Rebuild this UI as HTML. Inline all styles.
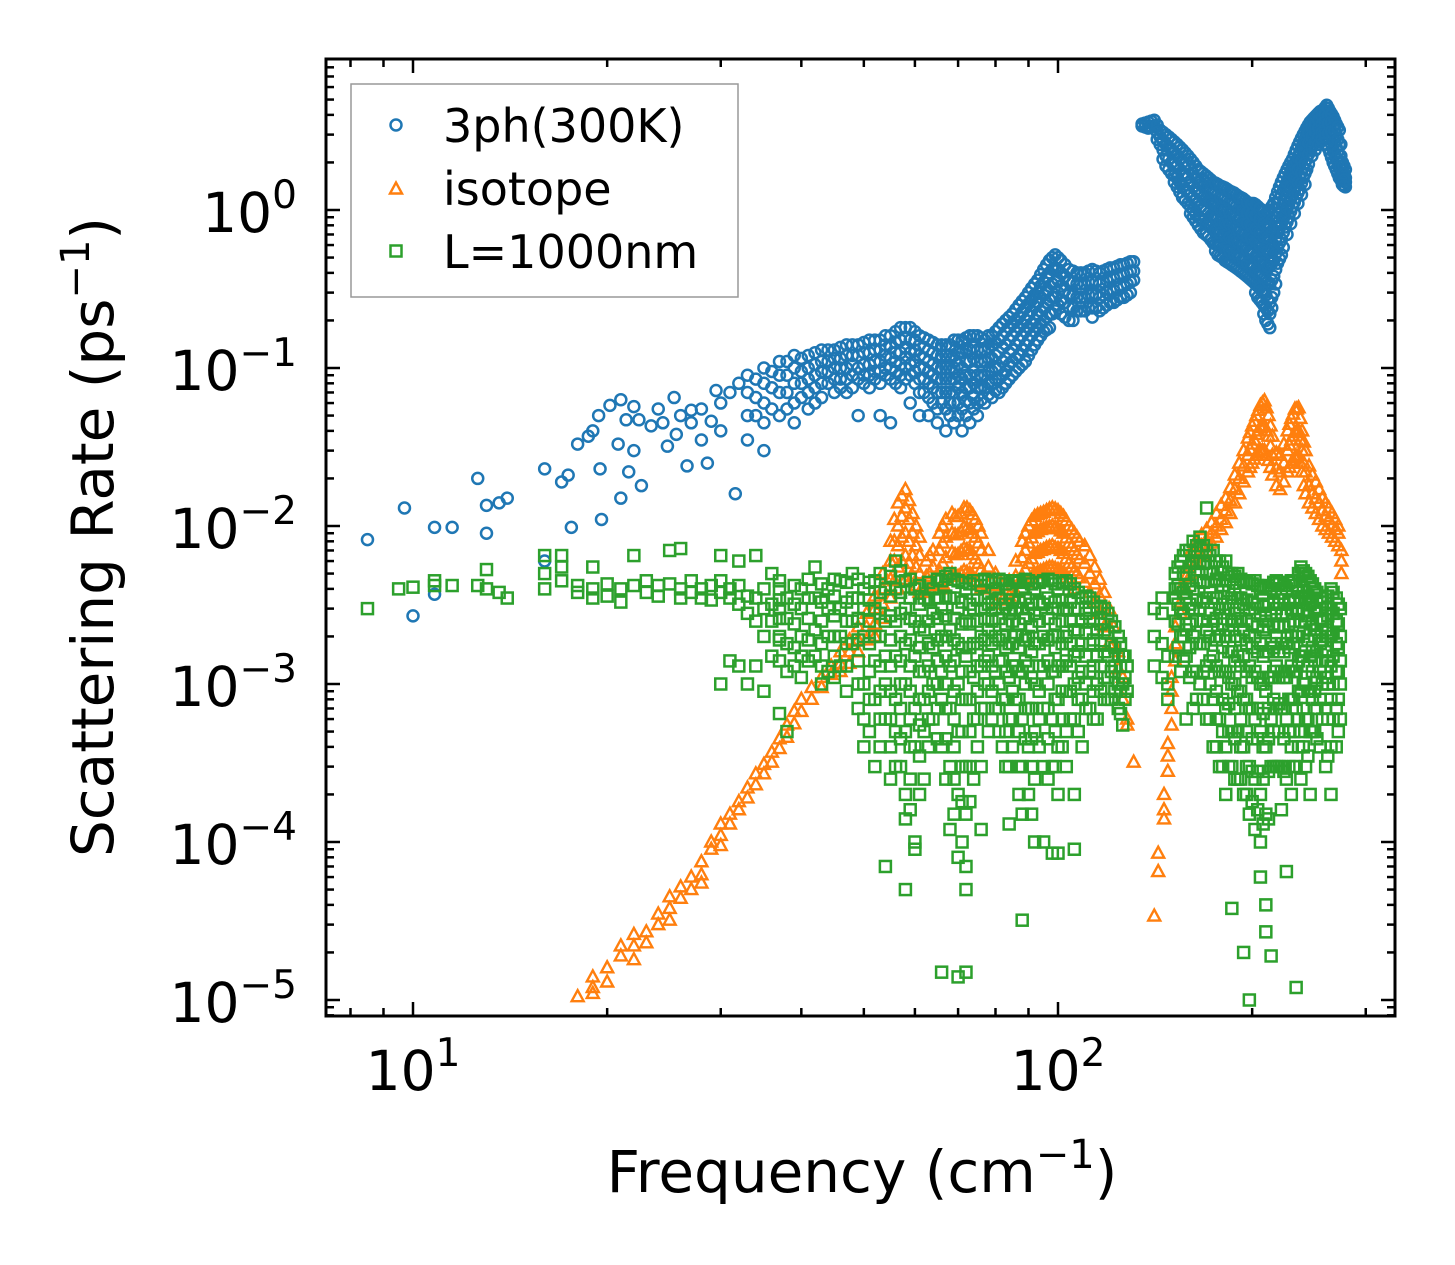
<!DOCTYPE html>
<html><head><meta charset="utf-8"><style>
html,body{margin:0;padding:0;background:#fff}
svg{display:block;font-family:"DejaVu Sans","Liberation Sans",sans-serif}
</style></head><body>
<svg id="chart" width="1455" height="1265" viewBox="0 0 1455 1265" xmlns="http://www.w3.org/2000/svg">
<defs><clipPath id="pc"><rect x="326" y="59" width="1069" height="957"/></clipPath></defs>
<rect x="0" y="0" width="1455" height="1265" fill="#fff"/>
<g id="marks" clip-path="url(#pc)"></g>
<g id="axes"></g>
</svg>
<script>
const xTickVals=[10,100];
const xTickExp=["1","2"];
const yTickVals=[1,0.1,0.01,0.001,0.0001,0.00001];
const yTickExp=["0","\u22121","\u22122","\u22123","\u22124","\u22125"];
const seriesNames=["3ph(300K)","isotope","L=1000nm"];

const blueFreq=[8.5,9.7,10,10.8,11.5,12.6,13,13.6,14,16,17,17.4,17.6,18,18.7,19,19.4,19.5,19.6,20.2,20.8,21,21.4,21.6,22,22.4,22.6,23.4,24,24.4,24.8,25.4,25.6,26,26.6,27,28,28.6,29,29.5,30,31,31.6,32,
33,35,37,39,41,43,45,47,49,51,53,55,57,59,61,63,65,67,69,71,73,75,77,79,81,83,85,87,89,91,93,95,97,99,101,104,107,110,113,116,119,122,125,128,131,
135,138,141,144,147,150,153,156,159,162,165,168,171,174,177,180,183,186,189,192,195,198,201,204,207,210,213,216,219,222,225,228,231,234,237,240,243,246,249,252,255,258,261,264,267,270,273,276,279];
const blueRate=[[0.0082],[0.013],[0.0027],[0.0098,0.0037],[0.0098],[0.02],[0.009,0.0135],[0.014],[0.015],[0.023,0.006],[0.019],[0.021],[0.0098],[0.033],[0.037],[0.04],[0.05],[0.023],[0.011],[0.058],[0.033],[0.015,0.063],[0.047],[0.022],[0.057,0.03],[0.047],[0.018],[0.043],[0.055],[0.045],[0.032],[0.065],[0.038],[0.05],[0.024],[0.054,0.045],[0.055,0.035],[0.025],[0.046],[0.072],[0.06,0.04],[0.07],[0.016],[0.08],
[0.09,0.07,0.05,0.035],[0.1,0.08,0.06,0.045,0.03],[0.11,0.09,0.07,0.05],[0.12,0.1,0.08,0.06,0.045],[0.12,0.1,0.085,0.07,0.055],[0.13,0.11,0.095,0.08,0.065],[0.13,0.115,0.1,0.085,0.07],[0.14,0.12,0.1,0.085,0.07],[0.14,0.12,0.1,0.085,0.05],[0.15,0.125,0.105,0.09,0.075],[0.15,0.13,0.11,0.095,0.08,0.05],[0.16,0.135,0.115,0.1,0.085,0.045],[0.18,0.15,0.125,0.105,0.09,0.075],[0.18,0.15,0.125,0.105,0.09,0.06],[0.16,0.14,0.12,0.1,0.085,0.07,0.05],[0.15,0.13,0.11,0.095,0.08,0.065,0.05],[0.14,0.12,0.1,0.085,0.07,0.055,0.045],[0.14,0.12,0.1,0.085,0.07,0.055,0.04],[0.15,0.12,0.1,0.085,0.07,0.06,0.045],[0.15,0.125,0.1,0.085,0.07,0.055,0.04],[0.16,0.13,0.11,0.09,0.075,0.06,0.045],[0.16,0.13,0.11,0.09,0.075,0.06,0.05],[0.15,0.13,0.11,0.09,0.075,0.06],[0.16,0.14,0.115,0.095,0.08,0.065],[0.18,0.15,0.125,0.1,0.085,0.07],[0.2,0.17,0.14,0.115,0.095,0.08],[0.22,0.19,0.16,0.13,0.11,0.09],[0.25,0.21,0.18,0.15,0.12,0.1],[0.28,0.24,0.2,0.17,0.14,0.11],[0.32,0.27,0.23,0.19,0.16,0.13],[0.36,0.3,0.26,0.22,0.18,0.15],[0.42,0.35,0.29,0.24,0.2,0.17],[0.48,0.4,0.33,0.27,0.22,0.18],[0.52,0.43,0.35,0.28,0.23],[0.48,0.4,0.33,0.27,0.22],[0.42,0.35,0.29,0.24,0.2],[0.4,0.34,0.28,0.23],[0.4,0.34,0.28,0.23],[0.42,0.35,0.29,0.24,0.21],[0.4,0.34,0.28,0.23],[0.42,0.36,0.3,0.25],[0.43,0.37,0.31,0.26],[0.45,0.39,0.33,0.28],[0.46,0.4,0.34,0.29],[0.47,0.41,0.36],
[3.5,3.4],[3.6,3.3],[3.7,3.4],[3.2,2.9,2.6],[3.0,2.6,2.2,1.9],[2.8,2.4,2.0,1.7],[2.6,2.2,1.9,1.6,1.4],[2.4,2.0,1.7,1.4,1.2],[2.2,1.9,1.6,1.3,1.1],[2.0,1.7,1.4,1.2,1.0,0.9],[1.8,1.5,1.3,1.1,0.9,0.8],[1.7,1.4,1.2,1.0,0.85,0.72],[1.6,1.35,1.15,0.95,0.8,0.68],[1.5,1.3,1.1,0.9,0.75,0.62],[1.45,1.25,1.05,0.88,0.72,0.6,0.52],[1.4,1.2,1.0,0.85,0.7,0.58,0.5],[1.35,1.15,0.98,0.82,0.68,0.56,0.47],[1.3,1.1,0.95,0.8,0.66,0.55,0.45],[1.25,1.05,0.9,0.76,0.63,0.52,0.43],[1.2,1.0,0.87,0.73,0.6,0.5,0.41],[1.15,0.98,0.84,0.7,0.58,0.48,0.39],[1.1,0.95,0.8,0.67,0.55,0.45,0.37],[1.1,0.93,0.78,0.65,0.53,0.43,0.35],[1.05,0.9,0.75,0.62,0.5,0.4,0.33,0.28],[1.0,0.85,0.7,0.58,0.47,0.38,0.31,0.26],[0.95,0.8,0.66,0.55,0.45,0.36,0.29,0.24,0.2],[1.0,0.82,0.68,0.55,0.44,0.34,0.26,0.22,0.18],[1.1,0.9,0.75,0.6,0.48,0.38,0.3],[1.3,1.1,0.9,0.72,0.58,0.46],[1.5,1.25,1.0,0.82,0.65,0.52],[1.7,1.4,1.15,0.95,0.78],[1.9,1.6,1.3,1.1,0.9],[2.1,1.8,1.5,1.25,1.05],[2.4,2.0,1.7,1.4,1.2],[2.7,2.3,1.9,1.6,1.35],[3.0,2.6,2.2,1.85,1.6],[3.3,2.9,2.5,2.1,1.8],[3.6,3.2,2.8,2.4],[3.8,3.4,3.0,2.6],[4.0,3.6,3.2,2.8],[4.2,3.8,3.4,3.0],[4.3,4.0,3.6,3.2],[4.6,4.1,3.7,3.3,2.6],[4.2,3.8,3.4,2.8,2.3],[3.9,3.4,2.9,2.4,2.0],[3.5,3.0,2.5,2.1,1.8],[3.2,2.6,2.2,1.9,1.6],[2.0,1.8,1.6,1.45],[1.8,1.6,1.5,1.4]];

const blueFreqB=[34,36,38,40,42,44,46,48,50,52,54,56,58,60,62,64,66,68,70,72,74,76,78,80,82,84,86,88,90,92,94,96,98,100,102.5,105.5,108.5,111.5,114.5,117.5,120.5,123.5,126.5,129.5,
136.5,139.5,142.5,145.5,148.5,151.5,154.5,157.5,160.5,163.5,166.5,169.5,172.5,175.5,178.5,181.5,184.5,187.5,190.5,193.5,196.5,199.5,202.5,205.5,208.5,211.5,214.5,217.5,220.5,223.5,226.5,229.5,232.5,235.5,238.5,241.5,244.5,247.5,250.5,253.5,256.5,259.5,262.5,265.5,268.5,271.5,274.5,277.5];
const blueRateB=[[0.085,0.065,0.05],[0.095,0.075,0.055],[0.11,0.09,0.07,0.055],[0.115,0.095,0.08,0.065],[0.125,0.105,0.09,0.075,0.06],[0.13,0.11,0.095,0.08],[0.135,0.115,0.1,0.085,0.075],[0.14,0.12,0.105,0.09,0.075],[0.145,0.125,0.105,0.09,0.08],[0.15,0.13,0.11,0.095,0.085],[0.16,0.14,0.12,0.1,0.09],[0.17,0.145,0.125,0.11,0.095,0.08],[0.18,0.155,0.135,0.115,0.1,0.085],[0.17,0.15,0.13,0.11,0.095,0.08],[0.155,0.135,0.115,0.1,0.085,0.07],[0.145,0.125,0.105,0.09,0.075,0.06],[0.14,0.12,0.1,0.085,0.07,0.06],[0.14,0.12,0.1,0.085,0.07,0.06,0.05],[0.15,0.125,0.105,0.09,0.075,0.06,0.05],[0.155,0.13,0.11,0.09,0.075,0.062,0.05],[0.16,0.135,0.115,0.095,0.08,0.065,0.055],[0.155,0.13,0.11,0.09,0.075,0.063],[0.16,0.135,0.115,0.095,0.08,0.068],[0.17,0.145,0.12,0.1,0.085,0.072],[0.19,0.16,0.135,0.11,0.09,0.075],[0.21,0.18,0.15,0.125,0.105,0.085],[0.235,0.2,0.17,0.14,0.115,0.095],[0.265,0.225,0.19,0.16,0.13,0.105],[0.3,0.255,0.215,0.18,0.15,0.12],[0.34,0.29,0.245,0.2,0.17,0.14],[0.39,0.33,0.28,0.23,0.19,0.16],[0.45,0.38,0.31,0.26,0.21,0.175],[0.5,0.42,0.34,0.28,0.22],[0.5,0.42,0.36,0.3,0.25],[0.45,0.38,0.31,0.26,0.21],[0.41,0.35,0.29,0.24,0.2],[0.4,0.34,0.28,0.23],[0.41,0.35,0.29,0.24],[0.41,0.35,0.29,0.24],[0.41,0.35,0.29,0.24],[0.43,0.37,0.31,0.26],[0.44,0.38,0.32,0.27],[0.45,0.39,0.33,0.28],[0.47,0.41,0.35,0.3],
[3.55,3.35],[3.65,3.35],[3.45,3.1,2.8],[3.1,2.75,2.4,2.1],[2.9,2.5,2.1,1.8],[2.7,2.3,1.95,1.65,1.5],[2.5,2.1,1.8,1.5,1.3],[2.3,1.95,1.65,1.35,1.15],[2.1,1.8,1.5,1.25,1.05,0.95],[1.9,1.6,1.35,1.15,0.95,0.85],[1.75,1.45,1.25,1.05,0.88,0.76],[1.65,1.38,1.18,0.98,0.82,0.7],[1.55,1.32,1.12,0.92,0.78,0.65],[1.48,1.28,1.08,0.89,0.74,0.61,0.55],[1.42,1.22,1.02,0.86,0.71,0.59,0.51],[1.38,1.18,0.99,0.83,0.69,0.57,0.48],[1.32,1.12,0.96,0.81,0.67,0.55,0.46],[1.28,1.08,0.92,0.78,0.65,0.53,0.44],[1.22,1.02,0.88,0.74,0.62,0.51,0.42],[1.18,0.99,0.85,0.71,0.59,0.49,0.4],[1.12,0.96,0.82,0.68,0.56,0.46,0.38],[1.1,0.94,0.79,0.66,0.54,0.44,0.36],[1.08,0.92,0.76,0.63,0.51,0.41,0.34,0.3],[1.02,0.87,0.72,0.6,0.48,0.39,0.32,0.27],[0.98,0.82,0.68,0.56,0.46,0.37,0.3,0.25,0.22],[0.98,0.81,0.67,0.55,0.44,0.35,0.27,0.23,0.19],[1.05,0.86,0.71,0.57,0.46,0.36,0.28,0.24],[1.2,1.0,0.82,0.66,0.53,0.42,0.34],[1.4,1.18,0.95,0.77,0.62,0.49],[1.6,1.32,1.08,0.88,0.72,0.58],[1.8,1.5,1.22,1.02,0.84,0.7],[2.0,1.7,1.4,1.18,0.98,0.82],[2.25,1.9,1.6,1.32,1.12,0.95],[2.55,2.15,1.8,1.5,1.28,1.1],[2.85,2.45,2.05,1.72,1.48,1.25],[3.15,2.75,2.35,1.98,1.7,1.45],[3.45,3.05,2.65,2.25,1.95],[3.7,3.3,2.9,2.5,2.2],[3.9,3.5,3.1,2.7,2.4],[4.1,3.7,3.3,2.9,2.6],[4.25,3.9,3.5,3.1,2.8],[4.45,4.05,3.65,3.25,2.9],[4.4,3.95,3.55,3.05,2.45],[4.05,3.6,3.15,2.6,2.15],[3.7,3.2,2.7,2.25,1.9],[3.35,2.8,2.35,2.0,1.7],[2.6,2.2,1.9,1.7,1.55],[1.9,1.7,1.55,1.42]];

const orangeFreq=[18,19,20,21,22,23,24,25,26,27,28,29,30,31,32,33,34,35,36,37,38,39,40,41.5,43,44.5,46,47.5,49,50.5,52,53.5,55,56.5,58,59.5,61,62.5,64,65.5,67,68.5,70,71.5,73,74.5,76,78,80,82,84,86,88,90,92,94,96,98,100,102,104,106,108,110,112,114,116,118,120,122,124,126,128,131,
141,143,146,148,150,152,155,158,161,164,167,170,173,176,179,182,185,188,191,194,197,200,203,206,209,212,215,218,221,224,227,230,233,236,239,242,245,248,251,254,257,260,263,266,269,272,275];
const orangeRate=[[1.05e-5],[1.4e-5,1.2e-5,1.1e-5],[1.6e-5,1.3e-5],[2.2e-5,1.9e-5],[2.6e-5,2.2e-5,1.8e-5],[2.7e-5,2.3e-5],[3.5e-5,3e-5],[4.5e-5,3.8e-5,3.2e-5],[5.2e-5,4.4e-5],[6e-5,5e-5],[7.5e-5,6.2e-5,5.5e-5],[9e-5,1e-4],[1.3e-4,1.1e-4,9.5e-5],[1.5e-4,1.3e-4],[1.8e-4,1.6e-4],[2.2e-4,1.9e-4],[2.7e-4,2.3e-4],[3.1e-4,2.7e-4],[3.7e-4,3.2e-4],[4.5e-4,3.9e-4],[5.5e-4,4.6e-4],[6.7e-4,5.6e-4],[8e-4,6.7e-4],[9.5e-4,8e-4],[1.1e-3,9.5e-4],[1.3e-3,1.15e-3],[1.6e-3,1.35e-3,1.2e-3],[1.9e-3,1.6e-3,1.35e-3],[2.3e-3,1.9e-3,1.6e-3],[2.8e-3,2.3e-3,1.9e-3],[3.6e-3,3e-3,2.4e-3,2e-3],[5e-3,4e-3,3.2e-3,2.6e-3],[8e-3,6e-3,4.6e-3,3.5e-3],[1.4e-2,1e-2,7.5e-3,5.5e-3,4e-3],[1.7e-2,1.3e-2,9e-3,6.5e-3,4.6e-3],[1.2e-2,9e-3,6.5e-3,4.8e-3],[8.5e-3,6.5e-3,5e-3,3.8e-3],[6e-3,4.8e-3,3.8e-3],[7e-3,5.5e-3,4.2e-3],[9e-3,7e-3,5.2e-3,4e-3],[1.1e-2,8.5e-3,6.3e-3,4.6e-3],[1.2e-2,9e-3,6.8e-3,5e-3],[1.15e-2,8.8e-3,6.6e-3,4.8e-3],[1.3e-2,9.8e-3,7.2e-3,5.2e-3],[1.25e-2,9.5e-3,7e-3,5e-3],[1.1e-2,8.5e-3,6.2e-3,4.5e-3],[9e-3,7e-3,5.3e-3,4e-3],[7e-3,5.5e-3,4.2e-3],[5e-3,4e-3,3.2e-3],[4.2e-3,3.4e-3],[4.5e-3,3.6e-3],[6e-3,4.8e-3,3.8e-3],[8e-3,6.3e-3,4.8e-3],[1e-2,7.8e-3,5.8e-3,4.4e-3],[1.15e-2,9e-3,6.7e-3,5e-3],[1.2e-2,9.5e-3,7e-3,5.2e-3],[1.25e-2,9.8e-3,7.3e-3,5.4e-3],[1.3e-2,1e-2,7.5e-3,5.5e-3],[1.25e-2,9.6e-3,7.2e-3,5.3e-3],[1.15e-2,9e-3,6.7e-3,5e-3],[1e-2,7.8e-3,5.8e-3,4.4e-3],[9e-3,7e-3,5.2e-3,4e-3],[8e-3,6.2e-3,4.7e-3],[7.5e-3,5.8e-3,4.4e-3],[6.5e-3,5e-3,3.8e-3],[5.5e-3,4.3e-3,3.3e-3],[4.6e-3,3.6e-3,2.8e-3],[3.8e-3,3e-3,2.3e-3],[3e-3,2.3e-3,1.8e-3],[2.3e-3,1.8e-3],[1.6e-3,1.25e-3],[1.1e-3,8e-4],[6e-4,5.5e-4],[3.2e-4],
[3.4e-5],[6.5e-5,8.5e-5],[1.4e-4,1.6e-4,2e-4],[2.8e-4,3.5e-4,4.2e-4],[5.5e-4,7e-4,9e-4,1.1e-3],[1.4e-3,1.8e-3,2.3e-3],[2.8e-3,3.3e-3,4e-3],[4e-3,4.8e-3,5.5e-3],[5e-3,6e-3,7e-3],[6e-3,7e-3,8.2e-3],[6.5e-3,7.5e-3,8.8e-3],[7e-3,8.2e-3,9.5e-3],[7.8e-3,9e-3,1.05e-2],[8.5e-3,1e-2,1.2e-2],[9.5e-3,1.1e-2,1.35e-2],[1.05e-2,1.25e-2,1.5e-2],[1.2e-2,1.45e-2,1.75e-2],[1.4e-2,1.7e-2,2.1e-2],[1.6e-2,2e-2,2.5e-2],[1.9e-2,2.4e-2,3e-2],[2.2e-2,2.8e-2,3.6e-2],[2.5e-2,3.3e-2,4.3e-2],[2.8e-2,3.8e-2,5e-2],[3e-2,4.2e-2,5.8e-2],[3e-2,4.3e-2,6.2e-2],[2.6e-2,3.7e-2,5e-2],[2.1e-2,2.8e-2,3.7e-2],[1.8e-2,2.3e-2,2.9e-2],[1.7e-2,2.2e-2,2.8e-2],[1.9e-2,2.5e-2,3.3e-2],[2.2e-2,3e-2,4e-2],[2.5e-2,3.5e-2,4.8e-2],[2.7e-2,3.9e-2,5.5e-2],[2.8e-2,4e-2,5.6e-2],[2.2e-2,3e-2,4e-2],[1.6e-2,2.2e-2,3e-2],[1.4e-2,1.8e-2,2.4e-2],[1.3e-2,1.6e-2,2.1e-2],[1.2e-2,1.5e-2,1.9e-2],[1.1e-2,1.4e-2,1.7e-2],[1e-2,1.25e-2,1.5e-2],[9.5e-3,1.15e-2,1.4e-2],[9e-3,1.1e-2,1.3e-2],[8.5e-3,1e-2,1.2e-2],[8e-3,9.5e-3,1.1e-2],[7.5e-3,9e-3,1e-2],[7e-3,6e-3,5e-3]];

const orangeFreqB=[55.75,57.25,58.75,60.25,63.25,66.25,69.25,70.75,72.25,73.75,75.25,89,91,93,95,97,99,101,103,105,107,198.5,201.5,204.5,207.5,210.5,213.5,228.5,231.5,234.5,237.5,240.5];
const orangeRateB=[[1.1e-2,8e-3,6e-3,4.5e-3],[1.55e-2,1.15e-2,8.5e-3,6e-3],[1.45e-2,1.1e-2,8e-3,5.8e-3],[1e-2,7.5e-3,5.5e-3,4.2e-3],[6.5e-3,5e-3,4e-3],[1e-2,7.8e-3,5.8e-3,4.3e-3],[1.15e-2,8.8e-3,6.6e-3,4.9e-3],[1.2e-2,9.2e-3,6.9e-3,5e-3],[1.3e-2,9.7e-3,7.1e-3,5.1e-3],[1.18e-2,9e-3,6.6e-3,4.8e-3],[1e-2,7.8e-3,5.8e-3,4.3e-3],[9e-3,7e-3,5.3e-3],[1.08e-2,8.4e-3,6.2e-3,4.7e-3],[1.18e-2,9.2e-3,6.8e-3,5.1e-3],[1.22e-2,9.6e-3,7.1e-3,5.3e-3],[1.28e-2,9.9e-3,7.4e-3,5.5e-3],[1.28e-2,9.8e-3,7.3e-3,5.4e-3],[1.2e-2,9.3e-3,7e-3,5.2e-3],[1.08e-2,8.4e-3,6.2e-3,4.7e-3],[9.5e-3,7.4e-3,5.5e-3],[8.5e-3,6.6e-3,5e-3],
[2.35e-2,3.05e-2,3.9e-2],[2.65e-2,3.5e-2,4.6e-2],[2.9e-2,4e-2,5.4e-2],[3e-2,4.25e-2,6e-2],[2.8e-2,4e-2,5.6e-2],[2.35e-2,3.2e-2,4.3e-2],[2.35e-2,3.25e-2,4.4e-2],[2.6e-2,3.7e-2,5.1e-2],[2.75e-2,3.95e-2,5.5e-2],[2.5e-2,3.5e-2,4.8e-2],[1.8e-2,2.5e-2,3.4e-2]];

const greenFreq=[8.5,9.5,10,10.8,11.5,12.6,13,13.6,14,16,17,18,19,20,21,22,23,24,25,26,27,28,29,30,31,32,33,34,35,36,37,38,40,42,44,46,48,50,52,54,56,58,60,62,64,66,68,70,72,74,76,78,80,82,84,86,88,90,92,95,98,100,103,106,109,112,115,118,121,124,126,128,
141,145,148,152,155,158,162,166,170,174,178,182,186,190,194,198,202,206,210,214,218,222,226,230,234,238,242,246,250,255,260,265,270,274];
const greenRate=[[3e-3],[4e-3],[4.1e-3],[4.2e-3,4.5e-3],[4.2e-3],[4.2e-3],[5.3e-3,4e-3],[3.8e-3],[3.5e-3],[6.5e-3,5e-3,4e-3],[6.5e-3,5.5e-3,4.5e-3],[4.2e-3,3.8e-3],[5.5e-3,4e-3,3.5e-3],[4.3e-3,3.6e-3],[4e-3,3.3e-3],[6.5e-3,4.2e-3],[3.8e-3,4.5e-3],[4.2e-3,3.6e-3],[7e-3,4.3e-3],[7.2e-3,4e-3,3.5e-3],[4.5e-3,3.8e-3],[4e-3,3.5e-3],[4.2e-3,3.4e-3],[6.5e-3,4.5e-3,3.8e-3,1e-3],[4e-3,3.5e-3,1.4e-3],[6e-3,4.2e-3,3.2e-3,1.3e-3],[3.6e-3,2.8e-3,1e-3],[6.5e-3,3.5e-3,2.5e-3,1.3e-3],[4e-3,3e-3,2e-3,9e-4],[5e-3,3.2e-3,2.5e-3,1.5e-3],[4e-3,3e-3,2e-3,6.5e-4],[3.5e-3,2.6e-3,1.8e-3,1.2e-3,5e-4],[4e-3,3e-3,2e-3,1.5e-3,1.1e-3],[5.5e-3,3.5e-3,2.2e-3,1.5e-3],[4e-3,3e-3,2e-3,1.2e-3],[4.5e-3,3e-3,2e-3,1.3e-3],[5e-3,3.5e-3,2.5e-3,1.8e-3],[4e-3,3e-3,2e-3,1e-3,6e-4,4e-4],[4.5e-3,3e-3,2e-3,1.4e-3,8e-4,3e-4],[4e-3,2.5e-3,1.5e-3,1e-3,6e-4,7e-5],[6e-3,4e-3,2.5e-3,1.5e-3,8e-4,5e-4,3e-4],[4.5e-3,3e-3,1.8e-3,1e-3,5e-4,2e-4,1.4e-4,5e-5],[4e-3,2.5e-3,1.5e-3,7e-4,4e-4,1e-4,9e-5],[3.5e-3,2.2e-3,1.2e-3,8e-4,5e-4,2.5e-4],[4e-3,2.8e-3,1.7e-3,1e-3,6e-4],[4.5e-3,3e-3,2e-3,1.2e-3,8e-4,4e-4,1.5e-5],[5e-3,3.5e-3,2.2e-3,1.3e-3,7e-4,3e-4,1.2e-4],[4.5e-3,3e-3,1.8e-3,1e-3,5e-4,2e-4,8e-5,1.4e-5],[4e-3,2.5e-3,1.5e-3,8e-4,3e-4,1.5e-4,7e-5,5e-5,1.5e-5],[4.5e-3,3e-3,1.8e-3,1.1e-3,6e-4,2.5e-4],[4.2e-3,3e-3,2e-3,1.3e-3,7e-4,3e-4,1.2e-4],[4.5e-3,3.2e-3,2.2e-3,1.5e-3,1e-3,5e-4],[4e-3,3e-3,2e-3,1.2e-3,7e-4],[4.5e-3,3e-3,2e-3,1.4e-3,8e-4,4e-4],[4e-3,2.8e-3,1.8e-3,1.1e-3,6e-4,3e-4,1.3e-4],[4.5e-3,3e-3,2e-3,1.3e-3,8e-4],[4e-3,3e-3,2e-3,1.2e-3,6e-4,3e-4,1.5e-4,3.2e-5],[4.5e-3,3e-3,2e-3,1.3e-3,7e-4,4e-4,2e-4],[4e-3,2.8e-3,1.8e-3,1e-3,5e-4,2.5e-4,1e-4],[4.5e-3,3.2e-3,2e-3,1.3e-3,7e-4,3e-4,1e-4],[4.5e-3,3e-3,2e-3,1.2e-3,6e-4,3e-4,8.5e-5],[4e-3,3e-3,2e-3,1.3e-3,8e-4,4e-4,2e-4,8.5e-5],[4.5e-3,3e-3,2e-3,1.4e-3,9e-4,5e-4,3e-4],[4e-3,3e-3,2.2e-3,1.5e-3,1e-3,6e-4,2e-4,9e-5],[3.5e-3,2.5e-3,1.8e-3,1.2e-3,8e-4,4e-4],[3.5e-3,2.6e-3,1.8e-3,1.2e-3,7e-4],[3e-3,2.2e-3,1.5e-3,1e-3,6e-4],[3e-3,2.2e-3,1.6e-3,1.1e-3,8e-4],[2.5e-3,1.8e-3,1.2e-3,8e-4],[2e-3,1.5e-3,1e-3,7e-4],[1.5e-3,1e-3,5.5e-4],[1.3e-3,9e-4],
[3e-3,2e-3,1.3e-3],[3.5e-3,2.8e-3,1.8e-3,1.1e-3],[1.5e-3,1e-3,8e-4],[5e-3,3.5e-3,2.5e-3,1.5e-3,4e-3],[6e-3,4e-3,3e-3,2e-3,1.2e-3],[7e-3,5e-3,3.5e-3,2.2e-3,1.5e-3,6e-4],[8e-3,6e-3,4e-3,3e-3,2e-3,1.2e-3,7e-4],[8.5e-3,6e-3,4.5e-3,3e-3,1.8e-3,1e-3],[1.3e-2,7e-3,5e-3,3.5e-3,2.2e-3,1.3e-3,6e-4],[7e-3,5e-3,3.5e-3,2.5e-3,1.5e-3,8e-4,4e-4],[6e-3,4.5e-3,3e-3,2e-3,1.2e-3,6e-4,3e-4],[6e-3,4.5e-3,3e-3,2e-3,1.2e-3,7e-4,4e-4,2e-4],[5e-3,3.5e-3,2.5e-3,1.6e-3,1e-3,5e-4,3e-4,3.8e-5],[5e-3,3.5e-3,2.5e-3,1.5e-3,9e-4,5e-4,2.5e-4],[4.5e-3,3.2e-3,2.2e-3,1.5e-3,8e-4,4e-4,2e-4,2e-5],[4.5e-3,3e-3,2e-3,1.3e-3,7e-4,3e-4,1.5e-4,1e-5],[4.5e-3,3e-3,2e-3,1.2e-3,6e-4,2.5e-4,1.2e-4],[4e-3,2.8e-3,1.8e-3,1e-3,5e-4,2e-4,1e-4,6e-5],[4e-3,2.5e-3,1.6e-3,9e-4,4e-4,1.5e-4,4e-5,2.7e-5],[4e-3,2.8e-3,1.8e-3,1.1e-3,6e-4,3e-4,1.9e-5],[4.5e-3,3e-3,2e-3,1.3e-3,7e-4,3e-4],[4e-3,2.8e-3,1.8e-3,1.2e-3,7e-4,3e-4,1.6e-4],[4e-3,2.8e-3,1.8e-3,1.1e-3,6e-4,2.5e-4,6.5e-5],[4.5e-3,3e-3,2e-3,1.3e-3,8e-4,4e-4,2e-4],[4.2e-3,3e-3,2e-3,1.2e-3,7e-4,3e-4,1.2e-5],[5.5e-3,3.5e-3,2.5e-3,1.5e-3,9e-4,5e-4,2.5e-4],[5e-3,3.5e-3,2.5e-3,1.6e-3,1e-3,6e-4,3e-4],[4.5e-3,3.2e-3,2.2e-3,1.5e-3,9e-4,5e-4,2e-4],[4e-3,3e-3,2e-3,1.4e-3,9e-4,5e-4],[3.5e-3,2.6e-3,1.8e-3,1.2e-3,8e-4,4e-4],[3e-3,2.2e-3,1.6e-3,1.1e-3,7e-4,3e-4],[4e-3,3e-3,2e-3,1.3e-3,8e-4,4e-4,2e-4],[3.5e-3,2.5e-3,1.8e-3,1.2e-3,7e-4,4e-4],[3e-3,2e-3,1.4e-3,1e-3,6e-4]];

const greenFreqB=[37,39,41,43,45,47,49,51,53,55,57,59,61,63,65,67,69,71,73,75,77,79,81,83,85,87,89,91,93.5,96.5,99,101.5,104.5,107.5,110.5,113.5,116.5,119.5,122.5,125,127,
153.5,156.5,160,164,168,172,176,180,184,188,192,196,200,204,208,212,216,220,224,228,232,236,240,244,248,252,257,262,267,272];
const greenRateB=[[4.5e-3,3.4e-3,2.6e-3,1.9e-3,1.4e-3],[4.2e-3,3.2e-3,2.4e-3,1.7e-3,1.3e-3],[4.6e-3,3.5e-3,2.6e-3,1.9e-3,1.4e-3],[4.3e-3,3.3e-3,2.5e-3,1.8e-3,1.3e-3,1e-3],[4.6e-3,3.6e-3,2.7e-3,2e-3,1.5e-3,1.1e-3],[4.4e-3,3.3e-3,2.5e-3,1.8e-3,1.3e-3,9e-4],[4.6e-3,3.5e-3,2.6e-3,1.9e-3,1.4e-3,1e-3,7e-4],[4.4e-3,3.4e-3,2.5e-3,1.8e-3,1.2e-3,8e-4,5e-4],[5e-3,3.8e-3,2.8e-3,2e-3,1.3e-3,9e-4,6e-4,4e-4],[4.8e-3,3.6e-3,2.7e-3,1.9e-3,1.3e-3,9e-4,6e-4,4e-4,2.5e-4],[5.2e-3,3.8e-3,2.8e-3,2e-3,1.4e-3,1e-3,7e-4,4.5e-4,3e-4],[4.6e-3,3.5e-3,2.6e-3,1.9e-3,1.3e-3,9e-4,6e-4,4e-4,2.5e-4,1.6e-4],[4.2e-3,3.2e-3,2.3e-3,1.7e-3,1.2e-3,8e-4,5.5e-4,3.5e-4,2e-4],[4.4e-3,3.4e-3,2.5e-3,1.8e-3,1.3e-3,9e-4,6e-4,4e-4],[4.6e-3,3.5e-3,2.6e-3,1.9e-3,1.4e-3,1e-3,7e-4,4.5e-4],[4.8e-3,3.6e-3,2.7e-3,2e-3,1.5e-3,1e-3,7e-4,4.5e-4,2.5e-4],[4.6e-3,3.5e-3,2.6e-3,1.9e-3,1.4e-3,9e-4,6e-4,4e-4,2.5e-4,1.5e-4],[4.4e-3,3.3e-3,2.4e-3,1.7e-3,1.2e-3,8e-4,5e-4,3e-4,1.8e-4,1e-4],[4.3e-3,3.2e-3,2.4e-3,1.7e-3,1.2e-3,8e-4,5e-4,3e-4,1.8e-4],[4.5e-3,3.4e-3,2.5e-3,1.8e-3,1.3e-3,9e-4,6e-4,4e-4],[4.6e-3,3.5e-3,2.6e-3,1.9e-3,1.4e-3,1e-3,7e-4],[4.4e-3,3.3e-3,2.5e-3,1.8e-3,1.3e-3,9e-4,6e-4],[4.6e-3,3.5e-3,2.6e-3,1.9e-3,1.4e-3,1e-3,7e-4,5e-4],[4.3e-3,3.2e-3,2.4e-3,1.7e-3,1.2e-3,8e-4,5e-4,3e-4],[4.5e-3,3.4e-3,2.5e-3,1.8e-3,1.3e-3,9e-4,6e-4,4e-4],[4.4e-3,3.3e-3,2.4e-3,1.7e-3,1.2e-3,8e-4,5e-4,3e-4,2e-4],[4.6e-3,3.5e-3,2.6e-3,1.9e-3,1.4e-3,1e-3,7e-4,4.5e-4],[4.3e-3,3.2e-3,2.3e-3,1.6e-3,1.1e-3,7e-4,4.5e-4,3e-4,1.5e-4],[4.4e-3,3.3e-3,2.5e-3,1.8e-3,1.3e-3,9e-4,6e-4,4e-4],[4.6e-3,3.5e-3,2.6e-3,1.9e-3,1.4e-3,1e-3,7e-4,4.5e-4,2.5e-4],[4.3e-3,3.3e-3,2.4e-3,1.7e-3,1.2e-3,8e-4,5e-4,3e-4],[4.4e-3,3.4e-3,2.5e-3,1.8e-3,1.3e-3,9e-4,6e-4,4e-4],[4.3e-3,3.3e-3,2.5e-3,1.8e-3,1.3e-3,9e-4,6e-4],[3.8e-3,3e-3,2.2e-3,1.6e-3,1.1e-3,8e-4,5e-4],[3.6e-3,2.8e-3,2.1e-3,1.5e-3,1e-3,7e-4],[3.3e-3,2.5e-3,1.9e-3,1.3e-3,9e-4,6e-4],[3.1e-3,2.4e-3,1.8e-3,1.3e-3,9e-4],[2.8e-3,2.1e-3,1.5e-3,1.1e-3,8e-4],[2.3e-3,1.7e-3,1.3e-3,9e-4],[1.8e-3,1.3e-3,9e-4,6.5e-4],[1.5e-3,1.1e-3,8e-4],
[5.5e-3,4.2e-3,3.2e-3,2.4e-3,1.7e-3],[6.5e-3,5e-3,3.8e-3,2.8e-3,2e-3,1.4e-3],[7e-3,5.5e-3,4.2e-3,3.2e-3,2.4e-3,1.7e-3,1.1e-3],[7.5e-3,5.8e-3,4.5e-3,3.4e-3,2.5e-3,1.8e-3,1.2e-3,8e-4],[7.5e-3,5.8e-3,4.4e-3,3.3e-3,2.5e-3,1.8e-3,1.2e-3,8e-4],[6.5e-3,5e-3,3.8e-3,2.8e-3,2e-3,1.4e-3,1e-3,6e-4],[6e-3,4.6e-3,3.5e-3,2.6e-3,1.9e-3,1.3e-3,9e-4,6e-4,4e-4],[5.5e-3,4.2e-3,3.2e-3,2.4e-3,1.7e-3,1.2e-3,8e-4,5e-4,3e-4],[5e-3,3.9e-3,3e-3,2.2e-3,1.6e-3,1.1e-3,7.5e-4,5e-4,3e-4],[4.8e-3,3.7e-3,2.8e-3,2e-3,1.4e-3,1e-3,7e-4,4.5e-4,2.5e-4],[4.6e-3,3.5e-3,2.6e-3,1.9e-3,1.3e-3,9e-4,6e-4,4e-4,2.5e-4],[4.4e-3,3.4e-3,2.5e-3,1.8e-3,1.2e-3,8e-4,5e-4,3e-4,2e-4],[4.3e-3,3.3e-3,2.4e-3,1.7e-3,1.1e-3,7e-4,4.5e-4,2.8e-4,1.8e-4],[4.2e-3,3.2e-3,2.3e-3,1.6e-3,1.1e-3,7e-4,4.5e-4,2.8e-4,1.6e-4],[4.1e-3,3.1e-3,2.2e-3,1.5e-3,1e-3,6.5e-4,4e-4,2.5e-4,1.3e-4],[4.2e-3,3.2e-3,2.3e-3,1.6e-3,1.1e-3,7e-4,4.5e-4,2.8e-4,1.4e-4],[4.4e-3,3.3e-3,2.4e-3,1.7e-3,1.2e-3,8e-4,5e-4,3e-4],[4.3e-3,3.2e-3,2.3e-3,1.6e-3,1.1e-3,7.5e-4,5e-4,3e-4],[4.2e-3,3.2e-3,2.3e-3,1.6e-3,1.1e-3,7e-4,4.5e-4,2.8e-4],[4.4e-3,3.3e-3,2.4e-3,1.7e-3,1.2e-3,8e-4,5e-4,3e-4],[4.5e-3,3.4e-3,2.5e-3,1.8e-3,1.2e-3,8e-4,5e-4,3e-4],[5e-3,3.8e-3,2.8e-3,2e-3,1.4e-3,9e-4,6e-4,4e-4],[5.2e-3,3.9e-3,2.9e-3,2.1e-3,1.5e-3,1e-3,7e-4,4e-4],[4.8e-3,3.6e-3,2.7e-3,1.9e-3,1.3e-3,9e-4,6e-4,3.5e-4],[4.3e-3,3.3e-3,2.4e-3,1.7e-3,1.2e-3,8e-4,5e-4],[3.8e-3,2.9e-3,2.2e-3,1.6e-3,1.1e-3,7e-4,4.5e-4],[3.3e-3,2.5e-3,1.9e-3,1.4e-3,1e-3,6e-4],[3.6e-3,2.7e-3,2e-3,1.4e-3,1e-3,6e-4,3.5e-4],[3.8e-3,2.8e-3,2.1e-3,1.5e-3,1e-3,6e-4],[3.2e-3,2.4e-3,1.7e-3,1.2e-3,8e-4,5e-4]];

const NS="http://www.w3.org/2000/svg";
const X0=413, XD=645, Y0=210, YD=158;
const L=326,R=1395,T=59,B=1016;
function xs(f){return X0+XD*(Math.log10(f)-1);}
function ys(v){return Y0-YD*Math.log10(v);}
function mk(tag,attrs,parent){const e=document.createElementNS(NS,tag);for(const k in attrs)e.setAttribute(k,attrs[k]);parent.appendChild(e);return e;}
const marks=document.getElementById('marks');
const axes=document.getElementById('axes');
const colors=["#1f77b4","#ff7f0e","#2ca02c"];

function marker(kind,cx,cy,color,parent){
  let e;
  if(kind===0){e=mk('circle',{cx:cx,cy:cy,r:5.5,fill:'none',stroke:color,'stroke-width':2.5},parent);}
  else if(kind===1){e=mk('polygon',{points:`${cx},${cy-6.5} ${cx-6},${cy+4.5} ${cx+6},${cy+4.5}`,fill:'none',stroke:color,'stroke-width':2.4},parent);}
  else {e=mk('rect',{x:cx-5.5,y:cy-5.5,width:11,height:11,fill:'none',stroke:color,'stroke-width':2.5},parent);}
  return e;
}
function drawSeries(freqs,rates,kind,name){
  const g=mk('g',{},marks);
  
  
  freqs.forEach((f,i)=>{rates[i].forEach(v=>{
    const e=marker(kind,xs(f),ys(v),colors[kind],g);
    
    
  });});
}
drawSeries(blueFreq,blueRate,0,'3ph');
drawSeries(blueFreqB,blueRateB,0,'3ph');
drawSeries(orangeFreq,orangeRate,1,'isotope');
drawSeries(orangeFreqB,orangeRateB,1,'isotope');
drawSeries(greenFreq,greenRate,2,'boundary');
drawSeries(greenFreqB,greenRateB,2,'boundary');

function tick(x1,y1,x2,y2,name){const e=mk('line',{x1:x1,y1:y1,x2:x2,y2:y2,stroke:'#000','stroke-width':2.5},axes);
  
  }
for(let d=0;d<3;d++){for(let m=1;m<10;m++){const f=m*Math.pow(10,d);const x=xs(f);if(x<L||x>R)continue;
  const len=(m===1)?14:8;
  tick(x,B,x,B-len,'x-tick');tick(x,T,x,T+len,'x-tick-top');}}
for(let d=-6;d<1;d++){for(let m=1;m<10;m++){const v=m*Math.pow(10,d);const y=ys(v);if(y<T||y>B)continue;
  const len=(m===1)?14:8;
  tick(L,y,L+len,y,'y-tick');tick(R,y,R-len,y,'y-tick-right');}}
const frame=mk('rect',{x:L,y:T,width:R-L,height:B-T,fill:'none',stroke:'#000','stroke-width':3},axes);



function powLabel(x,y,exp,anchor,name){
  const t=mk('text',{x:x,y:y,'font-size':55,'text-anchor':anchor,fill:'#000'},axes);
  
  
  const a=mk('tspan',{},t);a.textContent='10';
  const b=mk('tspan',{dy:-24,'font-size':39},t);b.textContent=exp;
}
xTickVals.forEach((v,i)=>powLabel(xs(v),1090,xTickExp[i],'middle','x-tick-label'));
yTickVals.forEach((v,i)=>powLabel(297,ys(v)+22,yTickExp[i],'end','y-tick-label'));

const xt=mk('text',{x:862,y:1192,'font-size':58,'text-anchor':'middle',fill:'#000'},axes);


mk('tspan',{},xt).textContent='Frequency (cm';
mk('tspan',{dy:-24,'font-size':40},xt).textContent='\u22121';
mk('tspan',{dy:24},xt).textContent=')';
const yt=mk('text',{x:0,y:0,'font-size':58,'text-anchor':'middle',fill:'#000',transform:'translate(113,537) rotate(-90)'},axes);


mk('tspan',{},yt).textContent='Scattering Rate (ps';
mk('tspan',{dy:-24,'font-size':40},yt).textContent='\u22121';
mk('tspan',{dy:24},yt).textContent=')';

const lg=mk('g',{},axes);


mk('rect',{x:351,y:84,width:387,height:213,fill:'#fff',stroke:'#999','stroke-width':1.5},lg);
const legY=[125,188,251];
seriesNames.forEach((n,i)=>{
  const e=mk('g',{},lg);
  
  
  marker(i,396,legY[i]+(i===1?1:0),colors[i],e);
  const t=mk('text',{x:443,y:legY[i]+17,'font-size':46,fill:'#000'},e);
  t.textContent=n;
});
</script>
</body></html>
